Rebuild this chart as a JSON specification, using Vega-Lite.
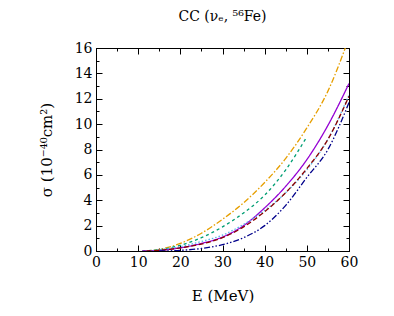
{
  "$schema": "https://vega.github.io/schema/vega-lite/v6.json",
  "autosize": {"type": "none"},
  "padding": {"left": 96, "top": 48, "right": 45, "bottom": 65},
  "width": 253,
  "height": 203,
  "title": {"text": "CC (νₑ, ⁵⁶Fe)", "font": "DejaVu Serif", "fontSize": 14, "fontWeight": "normal", "color": "#000", "offset": 14},
  "config": {"view": {"stroke": "#000", "strokeWidth": 1}, "font": "DejaVu Serif",
    "axis": {"labelFont": "DejaVu Serif", "titleFont": "DejaVu Serif", "labelFlush": false, "labelOverlap": false}},
  "data": {"values": [
    {"s": "a", "E": 11, "y": 0}, {"s": "a", "E": 15, "y": 0.12}, {"s": "a", "E": 20, "y": 0.6}, {"s": "a", "E": 25, "y": 1.4}, {"s": "a", "E": 30, "y": 2.5}, {"s": "a", "E": 35, "y": 3.8}, {"s": "a", "E": 40, "y": 5.4}, {"s": "a", "E": 45, "y": 7.3}, {"s": "a", "E": 50, "y": 9.7}, {"s": "a", "E": 55, "y": 12.6}, {"s": "a", "E": 60, "y": 16.8},
    {"s": "b", "E": 11, "y": 0}, {"s": "b", "E": 15, "y": 0.1}, {"s": "b", "E": 20, "y": 0.45}, {"s": "b", "E": 25, "y": 1.05}, {"s": "b", "E": 30, "y": 1.9}, {"s": "b", "E": 35, "y": 3.0}, {"s": "b", "E": 40, "y": 4.4}, {"s": "b", "E": 45, "y": 6.4}, {"s": "b", "E": 50, "y": 9.0},
    {"s": "c", "E": 11, "y": 0}, {"s": "c", "E": 15, "y": 0.05}, {"s": "c", "E": 20, "y": 0.25}, {"s": "c", "E": 25, "y": 0.6}, {"s": "c", "E": 30, "y": 1.1}, {"s": "c", "E": 35, "y": 2.0}, {"s": "c", "E": 40, "y": 3.4}, {"s": "c", "E": 45, "y": 5.1}, {"s": "c", "E": 50, "y": 7.2}, {"s": "c", "E": 55, "y": 9.9}, {"s": "c", "E": 60, "y": 13.2},
    {"s": "d", "E": 12, "y": 0}, {"s": "d", "E": 15, "y": 0.1}, {"s": "d", "E": 20, "y": 0.35}, {"s": "d", "E": 25, "y": 0.75}, {"s": "d", "E": 30, "y": 1.25}, {"s": "d", "E": 35, "y": 2.1}, {"s": "d", "E": 40, "y": 3.2}, {"s": "d", "E": 45, "y": 4.6}, {"s": "d", "E": 50, "y": 6.4}, {"s": "d", "E": 55, "y": 8.8}, {"s": "d", "E": 60, "y": 12.3},
    {"s": "e", "E": 12, "y": 0}, {"s": "e", "E": 15, "y": 0.05}, {"s": "e", "E": 20, "y": 0.25}, {"s": "e", "E": 25, "y": 0.55}, {"s": "e", "E": 30, "y": 1.05}, {"s": "e", "E": 35, "y": 1.9}, {"s": "e", "E": 40, "y": 3.1}, {"s": "e", "E": 45, "y": 4.6}, {"s": "e", "E": 50, "y": 6.5}, {"s": "e", "E": 55, "y": 8.8}, {"s": "e", "E": 60, "y": 12.2},
    {"s": "f", "E": 15, "y": 0}, {"s": "f", "E": 20, "y": 0.05}, {"s": "f", "E": 25, "y": 0.2}, {"s": "f", "E": 30, "y": 0.5}, {"s": "f", "E": 35, "y": 1.05}, {"s": "f", "E": 40, "y": 2.0}, {"s": "f", "E": 45, "y": 3.6}, {"s": "f", "E": 50, "y": 5.8}, {"s": "f", "E": 55, "y": 8.0}, {"s": "f", "E": 60, "y": 11.7}
  ]},
  "layer": [
    {
      "mark": {"type": "line", "clip": true, "strokeWidth": 1.3, "interpolate": "monotone"},
      "encoding": {
        "x": {"field": "E", "type": "quantitative", "scale": {"domain": [0, 60], "nice": false},
          "axis": {"orient": "bottom", "title": "E (MeV)", "values": [0,5,10,15,20,25,30,35,40,45,50,55,60],
            "labelExpr": "datum.value % 10 == 0 ? datum.label : ''",
            "tickSize": {"condition": {"test": "datum.value % 10 == 0", "value": -6}, "value": -3},
            "tickColor": "#000", "domainColor": "#000", "labelColor": "#000", "labelFontSize": 14, "labelPadding": 10,
            "titleFontSize": 15, "titleFontWeight": "normal", "titleColor": "#000", "titlePadding": 16, "grid": false}},
        "y": {"field": "y", "type": "quantitative", "scale": {"domain": [0, 16], "nice": false},
          "axis": {"orient": "left", "title": "σ (10⁻⁴⁰cm²)", "values": [0,1,2,3,4,5,6,7,8,9,10,11,12,13,14,15,16],
            "labelExpr": "datum.value % 2 == 0 ? datum.label : ''",
            "tickSize": {"condition": {"test": "datum.value % 2 == 0", "value": -6}, "value": -3},
            "tickColor": "#000", "domainColor": "#000", "labelColor": "#000", "labelFontSize": 14, "labelPadding": 10,
            "titleFontSize": 15, "titleFontWeight": "normal", "titleColor": "#000", "titlePadding": 20, "grid": false}},
        "color": {"field": "s", "type": "nominal", "legend": null,
          "scale": {"domain": ["a","b","c","d","e","f"], "range": ["#E69F00","#009E73","#9400D3","#56B4E9","#8B0000","#00008B"]}},
        "strokeDash": {"field": "s", "type": "nominal", "legend": null,
          "scale": {"domain": ["a","b","c","d","e","f"], "range": [[6,2,1.5,2],[3,3],[1,0],[1.5,2],[5,2.5],[6,2,1.5,2,1.5,2]]}}
      }
    },
    {
      "mark": {"type": "line", "opacity": 0},
      "encoding": {
        "x": {"field": "E", "type": "quantitative", "scale": {"domain": [0, 60], "nice": false},
          "axis": {"orient": "top", "title": null, "labels": false, "values": [0,5,10,15,20,25,30,35,40,45,50,55,60],
            "tickSize": {"condition": {"test": "datum.value % 10 == 0", "value": -6}, "value": -3},
            "tickColor": "#000", "domainColor": "#000", "grid": false}},
        "y": {"field": "y", "type": "quantitative", "scale": {"domain": [0, 16], "nice": false},
          "axis": {"orient": "right", "title": null, "labels": false, "values": [0,1,2,3,4,5,6,7,8,9,10,11,12,13,14,15,16],
            "tickSize": {"condition": {"test": "datum.value % 2 == 0", "value": -6}, "value": -3},
            "tickColor": "#000", "domainColor": "#000", "grid": false}},
        "detail": {"field": "s"}
      }
    }
  ],
  "resolve": {"axis": {"x": "independent", "y": "independent"}}
}
